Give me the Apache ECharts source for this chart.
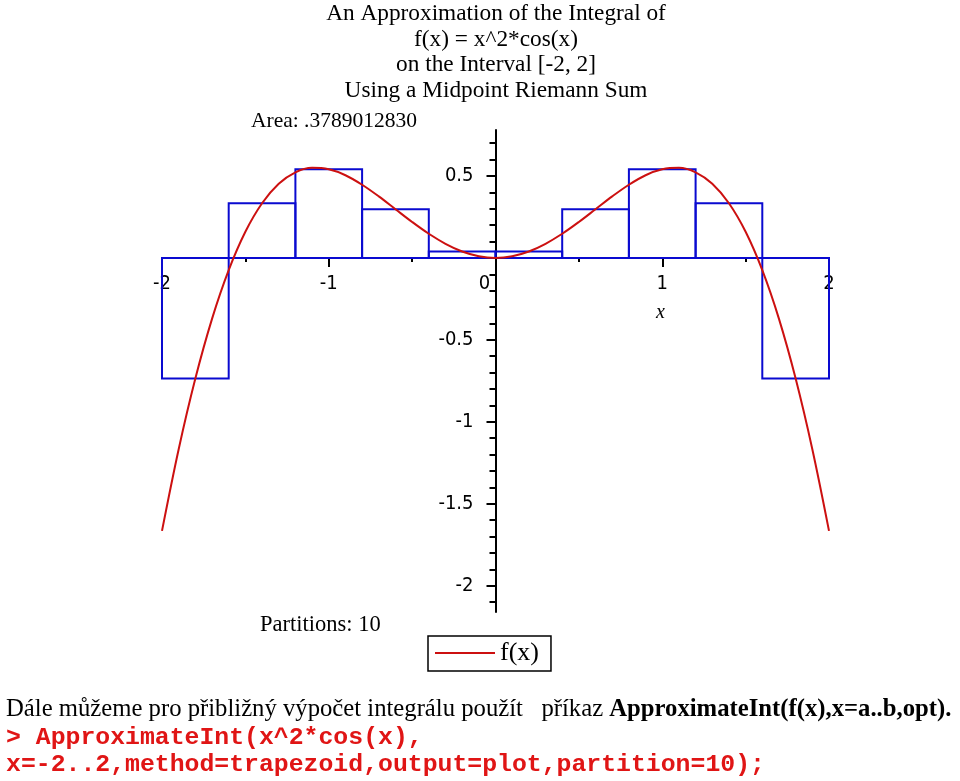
<!DOCTYPE html>
<html>
<head>
<meta charset="utf-8">
<script src="https://cdn.jsdelivr.net/npm/echarts@6/dist/echarts.min.js"></script>
<style>
html,body{margin:0;padding:0;background:#fff;}
#chart{width:960px;height:781px;}
</style>
</head>
<body>
<div id="chart"></div>
<script>
// ---- data ----
const curveX = [-2.0,-1.9,-1.8,-1.7,-1.6,-1.5,-1.4,-1.3,-1.2,-1.1,-1.0,-0.9,-0.8,-0.7,-0.6,-0.5,-0.4,-0.3,-0.2,-0.1,0.0,
                0.1,0.2,0.3,0.4,0.5,0.6,0.7,0.8,0.9,1.0,1.1,1.2,1.3,1.4,1.5,1.6,1.7,1.8,1.9,2.0];
const curveY = [-1.665,-1.167,-0.736,-0.372,-0.075,0.159,0.333,0.452,0.522,0.549,0.540,0.504,0.446,0.375,0.297,0.219,0.147,0.086,0.039,0.010,0.000,
                0.010,0.039,0.086,0.147,0.219,0.297,0.375,0.446,0.504,0.540,0.549,0.522,0.452,0.333,0.159,-0.075,-0.372,-0.736,-1.167,-1.665];
const partitionEdges = [-2.0,-1.6,-1.2,-0.8,-0.4,0.0,0.4,0.8,1.2,1.6,2.0];
const rectHeights = [-0.736,0.333,0.540,0.297,0.039,0.039,0.297,0.540,0.333,-0.736];
const xLabelValues = [-2,-1,0,1,2];
const yMajorValues = [-2,-1.5,-1,-0.5,0,0.5];
const yLabelValues = [-2,-1.5,-1,-0.5,0.5];
const yMinorValues = [-2.1,-1.9,-1.8,-1.7,-1.6,-1.4,-1.3,-1.2,-1.1,-0.9,-0.8,-0.7,-0.6,-0.4,-0.3,-0.2,-0.1,0.1,0.2,0.3,0.4,0.6,0.7];
const titleLines = ['An Approximation of the Integral of','f(x) = x^2*cos(x)','on the Interval [-2, 2]','Using a Midpoint Riemann Sum'];
const areaText = 'Area: .3789012830';
const partitionsText = 'Partitions: 10';
const seriesName = 'f(x)';

const rectData = [];
for (let i = 0; i < rectHeights.length; i++) rectData.push([partitionEdges[i], partitionEdges[i+1], rectHeights[i]]);
const curveData = curveX.map((x, i) => [x, curveY[i]]);

const tickFont = "'Liberation Sans Narrow','DejaVu Sans Condensed','Liberation Sans',sans-serif";
const serif = "'Liberation Serif','DejaVu Serif',serif";

// layout of the plot box
const G = { left: 162, right: 131, top: 130, bottom: 169 };
const X_MIN = -2, X_MAX = 2, Y_MIN = -2.16, Y_MAX = 0.78;
const gridW = 960 - G.left - G.right, gridH = 781 - G.top - G.bottom;
// axes cross at the origin: shift the axes from the grid edges to the zero lines
const yAxisOffset = -gridW * (0 - X_MIN) / (X_MAX - X_MIN);
const xAxisOffset = -gridH * (0 - Y_MIN) / (Y_MAX - Y_MIN);

const chart = echarts.init(document.getElementById('chart'));
chart.setOption({
  animation: false,
  backgroundColor: '#ffffff',
  title: [
    { text: titleLines.join('\n'), left: 491, top: -4, textAlign: 'center',
      textStyle: { fontFamily: serif, fontSize: 23.3, fontWeight: 'normal', color: '#000', lineHeight: 25.7 } },
    { text: areaText, left: 246, top: 105,
      textStyle: { fontFamily: serif, fontSize: 21.5, fontWeight: 'normal', color: '#000' } },
    { text: partitionsText, left: 255, top: 609,
      textStyle: { fontFamily: serif, fontSize: 22.5, fontWeight: 'normal', color: '#000' } }
  ],
  legend: {
    show: true, left: 428, top: 636, orient: 'horizontal',
    borderColor: '#000', borderWidth: 1.5, padding: [4, 12, 5, 7],
    itemWidth: 60, itemHeight: 2, itemGap: 5,
    textStyle: { fontFamily: serif, fontSize: 26, color: '#000' },
    data: [{ name: seriesName, icon: 'rect' }]
  },
  grid: { left: G.left, right: G.right, top: G.top, bottom: G.bottom, outerBoundsMode: 'none', containLabel: false },
  xAxis: [{
    type: 'value', min: X_MIN, max: X_MAX, interval: 1, position: 'bottom', offset: xAxisOffset,
    axisLine: { onZero: false, lineStyle: { color: '#000', width: 2 } },
    axisTick: { show: true, length: 9, lineStyle: { color: '#000', width: 2 } },
    minorTick: { show: true, splitNumber: 2, length: 4, lineStyle: { color: '#000', width: 2 } },
    splitLine: { show: false },
    axisLabel: {
      customValues: xLabelValues, margin: 16, fontFamily: tickFont, fontSize: 20, color: '#000',
      formatter: v => v === 0 ? '{z|0}' : String(v),
      rich: { z: { fontFamily: tickFont, fontSize: 20, color: '#000', padding: [0, 22, 0, 0] } }
    }
  }],
  yAxis: [{
    type: 'value', min: Y_MIN, max: Y_MAX, position: 'left', offset: yAxisOffset,
    axisLine: { onZero: false, lineStyle: { color: '#000', width: 2 } },
    axisTick: { show: true, customValues: yMajorValues, length: 9, lineStyle: { color: '#000', width: 2 } },
    splitLine: { show: false },
    axisLabel: { customValues: yLabelValues, margin: 22, fontFamily: tickFont, fontSize: 20, color: '#000',
      formatter: v => String(v) }
  }, {
    type: 'value', min: Y_MIN, max: Y_MAX, position: 'left', offset: yAxisOffset,
    axisLine: { show: false, onZero: false },
    axisTick: { show: true, customValues: yMinorValues, length: 6, lineStyle: { color: '#000', width: 2 } },
    splitLine: { show: false },
    axisLabel: { show: false }
  }],
  series: [
    {
      type: 'custom', name: 'rects', z: 2,
      data: rectData,
      encode: { x: [0, 1], y: 2 },
      renderItem: function (params, api) {
        const p1 = api.coord([api.value(0), 0]);
        const p2 = api.coord([api.value(1), api.value(2)]);
        return {
          type: 'rect',
          shape: { x: p1[0], y: Math.min(p1[1], p2[1]), width: p2[0] - p1[0], height: Math.abs(p2[1] - p1[1]) },
          style: { fill: null, stroke: '#0a0ad0', lineWidth: 2 }
        };
      }
    },
    {
      type: 'line', name: seriesName, z: 5,
      data: curveData, smooth: 0.35, showSymbol: false, symbol: 'none',
      lineStyle: { color: '#cc1010', width: 2 }, itemStyle: { color: '#cc1010' }
    }
  ],
  graphic: [
    { type: 'text', left: 656, top: 303,
      style: { text: 'x', font: "italic 20px 'Liberation Serif', serif", fill: '#000' } },
    { type: 'text', left: 6, top: 697,
      style: { text: '{n|Dále můžeme pro přibližný výpočet integrálu použít   příkaz }{b|ApproximateInt(f(x),x=a..b,opt).}',
        rich: {
          n: { fontFamily: serif, fontSize: 24.7, color: '#000' },
          b: { fontFamily: serif, fontSize: 24.7, fontWeight: 'bold', color: '#000' }
        } } },
    { type: 'text', left: 6, top: 724,
      style: { text: '> ApproximateInt(x^2*cos(x),\nx=-2..2,method=trapezoid,output=plot,partition=10);',
        font: "bold 24.8px 'Liberation Mono', monospace", fill: '#e01515', lineHeight: 27 } }
  ]
});
</script>
</body>
</html>
